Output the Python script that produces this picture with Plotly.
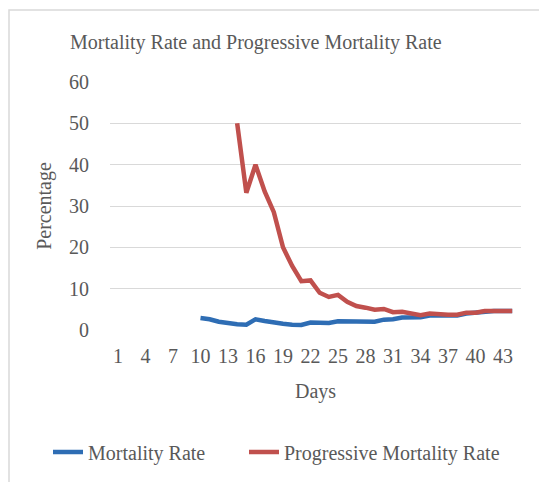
import plotly.graph_objects as go

days = list(range(1, 45))
tick_days = list(range(1, 44, 3))

mortality_days = list(range(10, 45))
mortality_rate = [2.9, 2.6, 2.0, 1.6, 1.4, 1.3, 2.6, 2.2, 1.8, 1.5,
                  1.3, 1.2, 1.8, 1.8, 1.7, 2.1, 2.1, 2.1, 2.0, 2.0,
                  2.5, 2.6, 3.0, 3.1, 3.1, 3.5, 3.5, 3.5, 3.5, 4.0,
                  4.2, 4.6, 4.6, 4.6, 4.6]

progressive_days = list(range(14, 45))
progressive_rate = [50.0, 33.2, 40.0, 33.5, 28.5, 20.0, 15.5, 11.8, 12.0, 9.0,
                    8.0, 8.5, 6.8, 5.8, 5.4, 4.9, 5.1, 4.3, 4.4, 3.9,
                    3.6, 4.0, 3.8, 3.7, 3.7, 4.2, 4.2, 4.6, 4.6, 4.6, 4.6]

FONT = "Times New Roman, Liberation Serif, serif"
GREY = "#595959"
FS = 20

fig = go.Figure()
fig.add_trace(go.Scatter(x=mortality_days, y=mortality_rate, mode="lines",
                         name="Mortality Rate", legend="legend",
                         line=dict(color="#2E6DB4", width=4.5)))
fig.add_trace(go.Scatter(x=progressive_days, y=progressive_rate, mode="lines",
                         name="Progressive Mortality Rate", legend="legend2",
                         line=dict(color="#C0504D", width=4.5)))

# the page body has an 8px default margin: work in screen pixels, shift by OFF
OFF = 8
SW, SH = 547, 482
W, H = SW - OFF, SH - OFF
# plot area in screen pixels
PL, PR, PT, PB = 110, 521, 82, 330
L, R, T, B = PL - OFF, SW - PR, PT - OFF, SH - PB
pw, ph = PR - PL, PB - PT

def px(x):
    return (x - PL) / pw

def py(y):
    return (PB - y) / ph

def legend_at(sx):
    return dict(orientation="h", xref="container", yref="container",
                x=(sx - OFF) / W, xanchor="left", y=1 - (452 - OFF) / H, yanchor="middle",
                font=dict(family=FONT, color=GREY, size=FS),
                bgcolor="rgba(0,0,0,0)")

fig.update_layout(
    width=W, height=H,
    margin=dict(l=L, r=R, t=T, b=B, autoexpand=False),
    paper_bgcolor="white", plot_bgcolor="white",
    font=dict(family=FONT, color=GREY, size=FS),
    title=dict(text="Mortality Rate and Progressive Mortality Rate",
               x=(70 - OFF) / W, xanchor="left", y=1 - (42 - OFF) / H, yanchor="middle",
               font=dict(family=FONT, color=GREY, size=FS)),
    showlegend=True,
    legend=legend_at(48),
    legend2=legend_at(244),
    xaxis=dict(range=[0.13, 44.96], tickmode="array", tickvals=tick_days,
               ticktext=[str(d) for d in tick_days], showgrid=False, zeroline=False,
               showline=False, ticks="", ticklabelstandoff=12, automargin=False,
               title=dict(text="Days", standoff=17, font=dict(size=FS))),
    yaxis=dict(range=[0, 60], tickvals=[0, 10, 20, 30, 40, 50, 60],
               showgrid=True, gridcolor="#D9D9D9", gridwidth=1.3,
               zeroline=False, showline=False, ticks="", ticklabelstandoff=20,
               automargin=False,
               title=dict(text="Percentage", standoff=12, font=dict(size=FS))),
    shapes=[dict(type="rect", xref="paper", yref="paper",
                 x0=px(9), x1=px(560), y0=py(500), y1=py(10),
                 line=dict(color="#D9D9D9", width=1.5), fillcolor="rgba(0,0,0,0)",
                 layer="above")],
)

fig.write_html("out.html")
